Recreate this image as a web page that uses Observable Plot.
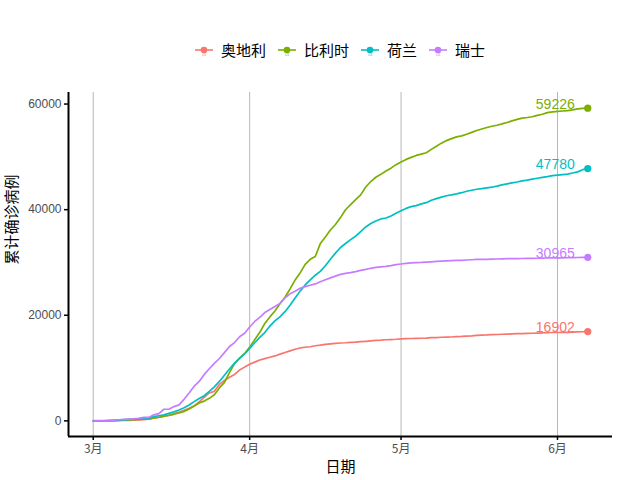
<!DOCTYPE html>
<html>
<head>
<meta charset="utf-8">
<script src="https://cdn.jsdelivr.net/npm/d3@7"></script>
<script src="https://cdn.jsdelivr.net/npm/@observablehq/plot@0.6"></script>
<style>
  html, body { margin: 0; padding: 0; background: white; }
  #wrap { width: 640px; height: 480px; position: relative; }
  #legend { height: 80px; box-sizing: border-box; padding: 40px 28px 0 68px; display: flex; justify-content: center; align-items: flex-start;
    font-family: "Noto Sans CJK SC", sans-serif; font-size: 15px; color: #000; }
  #legend .item { display: flex; align-items: center; margin: 0 6px; height: 20px; line-height: 20px; }
  #legend svg { margin-right: 8px; }
  #chart svg { display: block; }
</style>
</head>
<body>
<div id="wrap">
  <div id="legend"></div>
  <div id="chart"></div>
</div>
<script>
// ---- data (cumulative confirmed cases, daily, 2020-03-01 .. 2020-06-07) ----
const countries = ["奥地利", "比利时", "荷兰", "瑞士"];
const colors = ["#F8766D", "#7CAE00", "#00BFC4", "#C77CFF"];

const austria = [
  14,18,21,29,41,55,79,104,131,182,246,302,504,655,860,1018,1332,1646,2013,2388,2814,3582,4474,5283,5588,6909,7657,8271,8788,9618,10180,
  10711,11129,11524,11781,12051,12297,12639,12942,13244,13555,13806,13945,14041,14226,14336,14476,14595,14671,14749,14795,14873,14925,15002,15071,15148,15225,15274,15357,15402,15452,
  15531,15558,15597,15621,15650,15684,15752,15774,15833,15871,15882,15961,15997,16058,16109,16201,16242,16269,16321,16353,16404,16436,16486,16503,16539,16557,16591,16628,16655,16685,16731,
  16733,16759,16771,16805,16843,16880,16902
];
const belgium = [
  2,8,13,23,50,109,169,200,239,267,314,314,559,689,886,1058,1243,1486,1795,2257,2815,3401,3743,4269,4937,6235,7284,9134,10836,11899,12775,
  13964,15348,16770,18431,19691,20814,22194,23403,24983,26667,28018,29647,30589,31119,33573,34809,36138,37183,38496,39983,40956,41889,42797,44293,45325,46134,46687,47334,47859,48519,
  49032,49517,49906,50267,50509,50781,51420,52011,52596,53081,53449,53779,53981,54288,54644,54989,55280,55559,55791,55983,56235,56511,56810,57092,57342,57455,57592,57849,58061,58381,58517,
  58615,58685,58767,58907,59072,59180,59226
];
const netherlands = [
  10,18,24,38,82,128,188,265,321,382,503,503,806,962,1138,1416,1711,2058,2467,3003,3640,4217,4764,5580,6438,7468,8647,9819,10930,11817,12667,
  13696,14788,15821,16727,17953,18926,19709,20682,21903,23249,24571,25746,26710,27580,28316,29383,30619,31766,32838,33588,34317,34972,35847,36729,37384,37845,38245,38416,38802,39316,
  39791,40236,40571,40770,41087,41319,41774,42093,42382,42627,42788,42984,43211,43481,43681,43870,43995,44141,44249,44447,44700,44888,45064,45236,45445,45578,45768,45950,46126,46257,46442,
  46545,46647,46733,46942,47152,47574,47780
];
const switzerland = [
  27,42,56,90,114,214,268,337,374,491,652,652,1139,1359,2200,2200,2700,3028,4075,5294,6575,7474,8795,9877,10897,11811,12928,14076,14829,15922,16605,
  17768,18827,19606,20505,21100,21657,22253,23280,24051,24551,25107,25415,25688,25936,26336,26732,27078,27404,27740,27944,28063,28268,28496,28677,28894,29061,29164,29264,29407,29586,
  29705,29817,29905,29981,30009,30060,30126,30207,30251,30305,30344,30380,30413,30463,30514,30572,30587,30597,30618,30658,30694,30707,30725,30736,30746,30761,30776,30796,30828,30845,30862,
  30871,30874,30893,30913,30936,30956,30965
];
const series = [austria, belgium, netherlands, switzerland];

const startDate = "2020-03-01";
const monthTicks = ["2020-03-01", "2020-04-01", "2020-05-01", "2020-06-01"];
const monthLabels = ["3月", "4月", "5月", "6月"];
const yTicks = [0, 20000, 40000, 60000];
const xTitle = "日期";
const yTitle = "累计确诊病例";

// ---- build table ----
const dates = d3.utcDay.range(new Date(startDate), d3.utcDay.offset(new Date(startDate), austria.length));
const rows = [];
countries.forEach((c, i) => series[i].forEach((v, j) => rows.push({country: c, date: dates[j], value: v})));
const last = countries.map((c, i) => ({country: c, date: dates[dates.length - 1], value: series[i][series[i].length - 1]}));
const tickDates = monthTicks.map(s => new Date(s));

// ggplot-like 5% expansion
const t0 = +dates[0], t1 = +dates[dates.length - 1];
const xPad = (t1 - t0) * 0.05;
const xDomain = [new Date(t0 - xPad), new Date(t1 + xPad)];
const vMax = d3.max(rows, d => d.value), vMin = 0;
const yPad = (vMax - vMin) * 0.05;
const yDomain = [vMin - yPad, vMax + yPad];

// ---- legend ----
const legend = document.getElementById("legend");
countries.forEach((c, i) => {
  const item = document.createElement("div");
  item.className = "item";
  item.innerHTML = `<svg width="18" height="18" viewBox="0 0 18 18">
      <line x1="0" y1="9" x2="18" y2="9" stroke="${colors[i]}" stroke-width="1.6"/>
      <text x="9" y="15" font-size="8" font-family="Liberation Sans" text-anchor="middle" fill="${colors[i]}" fill-opacity="0.6">a</text>
      <circle cx="9" cy="9" r="3.3" fill="${colors[i]}"/>
    </svg><span>${c}</span>`;
  legend.appendChild(item);
});

// ---- chart ----
const chart = Plot.plot({
  width: 640,
  height: 400,
  marginTop: 12,
  marginBottom: 44,
  marginLeft: 68,
  marginRight: 28,
  style: {fontFamily: "'Liberation Sans', 'Noto Sans CJK SC', sans-serif", fontSize: "12px", background: "white", overflow: "visible"},
  x: {type: "utc", domain: xDomain, axis: null},
  y: {domain: yDomain, axis: null},
  color: {domain: countries, range: colors},
  marks: [
    Plot.ruleX(tickDates, {stroke: "#b8b8b8", strokeWidth: 1}),
    Plot.line(rows, {x: "date", y: "value", z: "country", stroke: "country", strokeWidth: 1.7}),
    Plot.dot(last, {x: "date", y: "value", fill: "country", r: 3.6}),
    Plot.text(last, {x: "date", y: "value", text: d => String(d.value), fill: "country", textAnchor: "end", dx: -13, dy: -4, fontSize: 14, fontFamily: "'Liberation Sans', sans-serif"}),
    Plot.ruleX([xDomain[0]], {stroke: "black", strokeWidth: 2}),
    Plot.ruleY([yDomain[0]], {stroke: "black", strokeWidth: 2}),
    Plot.axisX(tickDates, {anchor: "bottom", tickSize: 4, tickPadding: 4, stroke: "black", strokeWidth: 1.5, fill: "#4d4d4d", fontSize: 12,
      tickFormat: d => monthLabels[tickDates.findIndex(t => +t === +d)], label: null, fontFamily: "'Noto Sans CJK SC', sans-serif"}),
    Plot.axisY(yTicks, {anchor: "left", tickSize: 4, tickPadding: 3, stroke: "black", strokeWidth: 1.5, fill: "#4d4d4d", fontSize: 12,
      tickFormat: d => String(d), label: null}),
    Plot.text([xTitle], {frameAnchor: "bottom", dy: 35, fontSize: 15, fill: "black", fontFamily: "'Noto Sans CJK SC', sans-serif"}),
    Plot.text([yTitle], {frameAnchor: "left", dx: -56, rotate: -90, fontSize: 15, fill: "black", fontFamily: "'Noto Sans CJK SC', sans-serif"})
  ]
});
document.getElementById("chart").appendChild(chart);
</script>
</body>
</html>
